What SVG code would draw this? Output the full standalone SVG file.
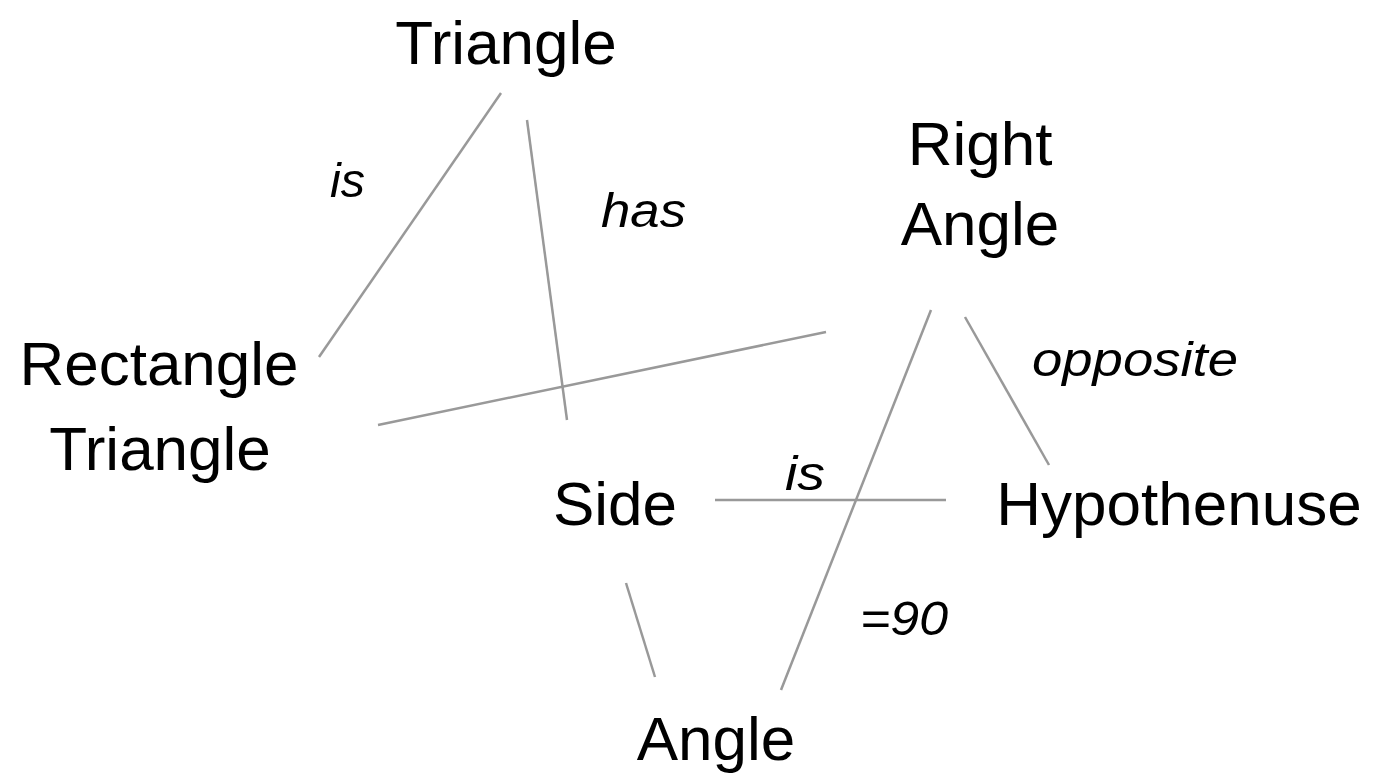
<svg xmlns="http://www.w3.org/2000/svg" width="1376" height="779" viewBox="0 0 1376 779">
<style>
.n{font-family:"Liberation Sans",Arial,sans-serif;font-size:62px;fill:#000;text-anchor:middle}
.l{font-family:"Liberation Sans",Arial,sans-serif;font-size:48px;font-style:italic;fill:#000}
.c{stroke:#999;stroke-width:2.5;fill:none}
</style>
<rect width="1376" height="779" fill="#fff"/>
<g id="connectors">
<line class="c" x1="501" y1="93" x2="319" y2="357"/>
<line class="c" x1="527" y1="120" x2="567" y2="420"/>
<line class="c" x1="378" y1="425" x2="826" y2="332"/>
<line class="c" x1="931" y1="310" x2="781" y2="690"/>
<line class="c" x1="965" y1="317" x2="1049" y2="465"/>
<line class="c" x1="715" y1="500" x2="946" y2="500"/>
<line class="c" x1="626" y1="583" x2="655" y2="677"/>
<text class="l" x="330" y="197" textLength="35" lengthAdjust="spacingAndGlyphs">is</text>
<text class="l" x="601" y="227" textLength="85" lengthAdjust="spacingAndGlyphs">has</text>
<text class="l" x="1032" y="376" textLength="206" lengthAdjust="spacingAndGlyphs">opposite</text>
<text class="l" x="785" y="490" textLength="40" lengthAdjust="spacingAndGlyphs">is</text>
<text class="l" x="860" y="635" textLength="88" lengthAdjust="spacingAndGlyphs">=90</text>
</g>
<g id="triangle"><text class="n" x="506" y="64">Triangle</text></g>
<g id="right-angle"><text class="n" x="980" y="165">Right</text><text class="n" x="980" y="245">Angle</text></g>
<g id="rectangle-triangle"><text class="n" x="159" y="385">Rectangle</text><text class="n" x="160" y="470">Triangle</text></g>
<g id="side"><text class="n" x="615" y="525">Side</text></g>
<g id="hypothenuse"><text class="n" x="1179" y="525">Hypothenuse</text></g>
<g id="angle"><text class="n" x="716" y="760">Angle</text></g>
</svg>
